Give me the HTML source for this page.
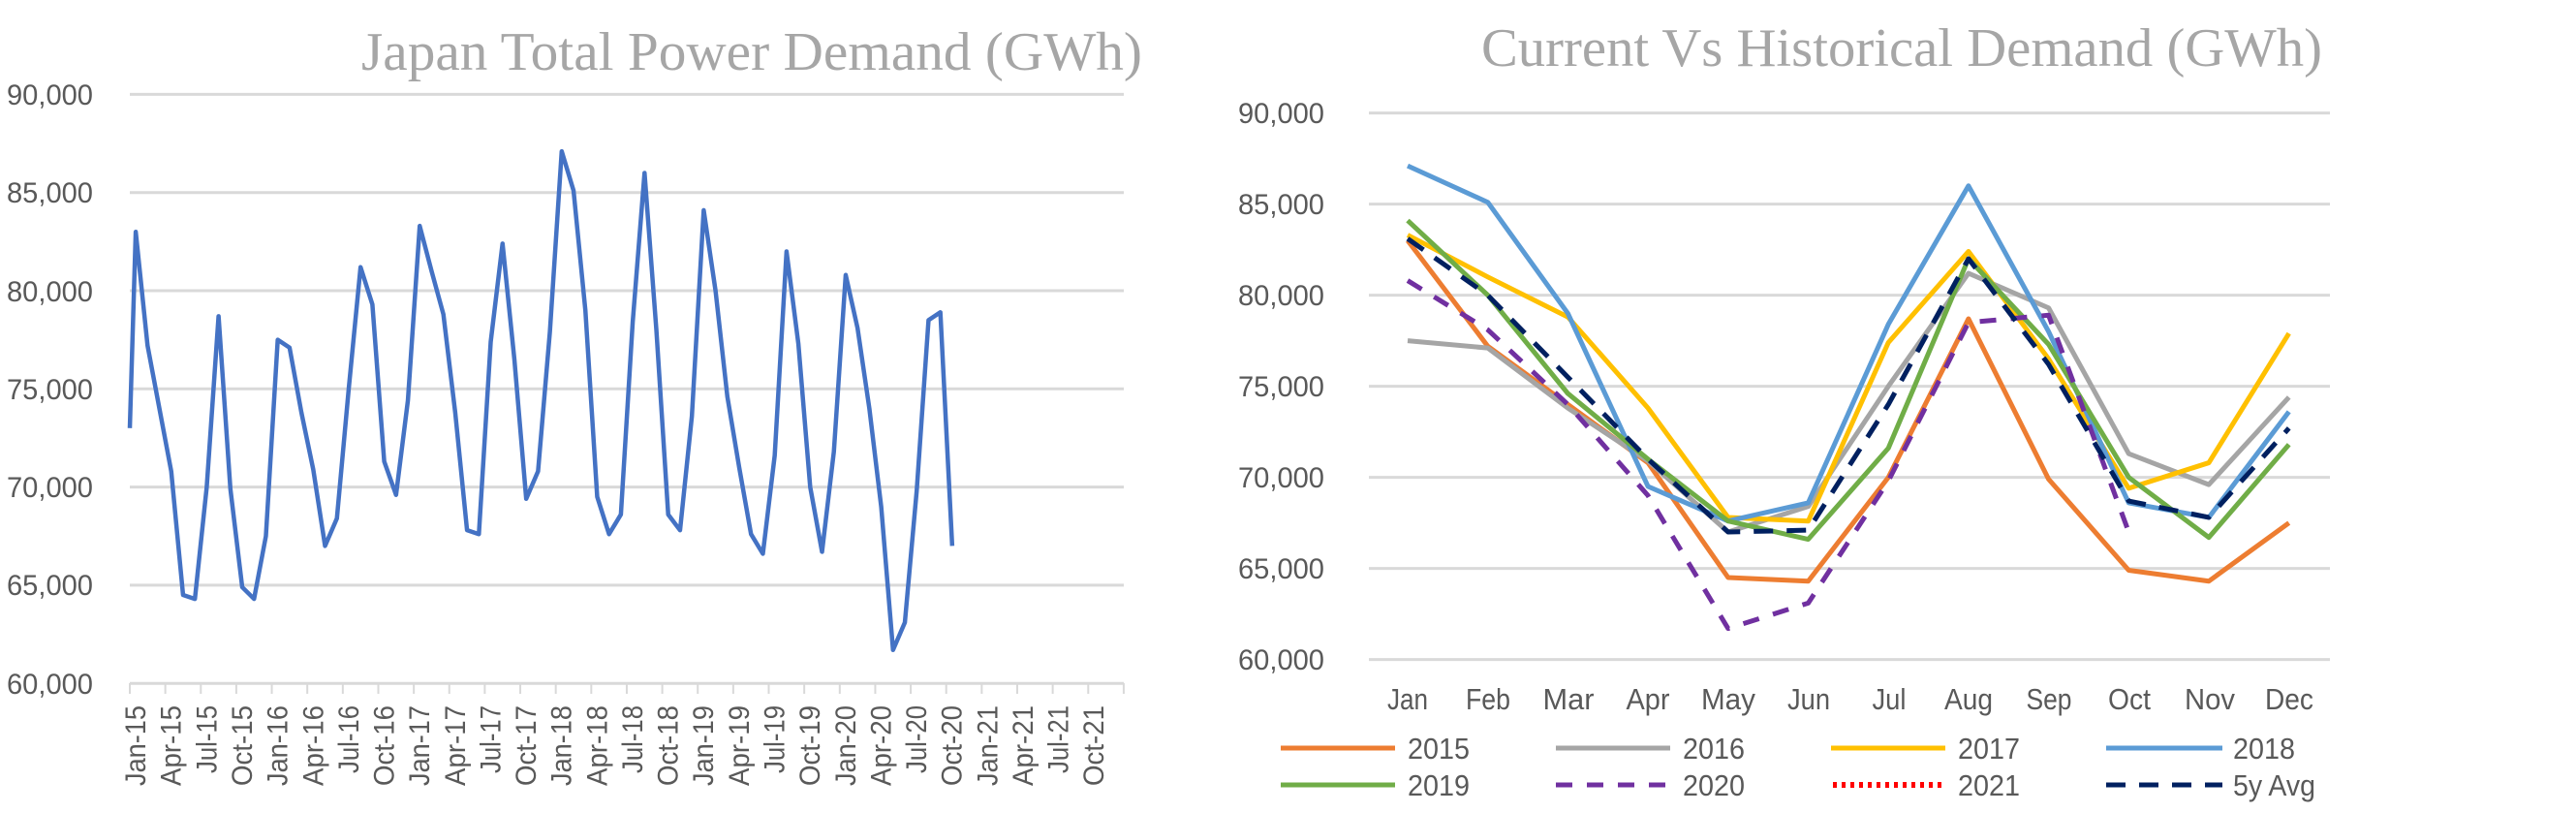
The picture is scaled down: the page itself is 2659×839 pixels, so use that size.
<!DOCTYPE html>
<html><head><meta charset="utf-8"><style>
html,body{margin:0;padding:0;background:#fff;}
svg{display:block;}
text{font-family:"Liberation Sans",sans-serif;fill:#595959;}
.t{font-family:"Liberation Serif",serif;fill:#a6a6a6;font-size:56px;}
</style></head><body>
<svg id="s" width="2659" height="839" viewBox="0 0 2659 839" xmlns="http://www.w3.org/2000/svg">
<text class="t" x="373" y="72" textLength="806" lengthAdjust="spacingAndGlyphs">Japan Total Power Demand (GWh)</text>
<text class="t" x="1529" y="68" textLength="868" lengthAdjust="spacingAndGlyphs">Current Vs Historical Demand (GWh)</text>
<g font-size="30" text-anchor="end">
<text x="96" y="108" textLength="89" lengthAdjust="spacingAndGlyphs">90,000</text>
<text x="96" y="209" textLength="89" lengthAdjust="spacingAndGlyphs">85,000</text>
<text x="96" y="311" textLength="89" lengthAdjust="spacingAndGlyphs">80,000</text>
<text x="96" y="412" textLength="89" lengthAdjust="spacingAndGlyphs">75,000</text>
<text x="96" y="513" textLength="89" lengthAdjust="spacingAndGlyphs">70,000</text>
<text x="96" y="614" textLength="89" lengthAdjust="spacingAndGlyphs">65,000</text>
<text x="96" y="716" textLength="89" lengthAdjust="spacingAndGlyphs">60,000</text>
<text x="1367" y="127" textLength="89" lengthAdjust="spacingAndGlyphs">90,000</text>
<text x="1367" y="221" textLength="89" lengthAdjust="spacingAndGlyphs">85,000</text>
<text x="1367" y="315" textLength="89" lengthAdjust="spacingAndGlyphs">80,000</text>
<text x="1367" y="409" textLength="89" lengthAdjust="spacingAndGlyphs">75,000</text>
<text x="1367" y="503" textLength="89" lengthAdjust="spacingAndGlyphs">70,000</text>
<text x="1367" y="597" textLength="89" lengthAdjust="spacingAndGlyphs">65,000</text>
<text x="1367" y="691" textLength="89" lengthAdjust="spacingAndGlyphs">60,000</text>
</g>
<g font-size="30" text-anchor="end">
<text transform="translate(140.1,728) rotate(-90)" dy="10" textLength="83" lengthAdjust="spacingAndGlyphs">Jan-15</text>
<text transform="translate(176.7,728) rotate(-90)" dy="10" textLength="83" lengthAdjust="spacingAndGlyphs">Apr-15</text>
<text transform="translate(213.4,728) rotate(-90)" dy="10" textLength="70" lengthAdjust="spacingAndGlyphs">Jul-15</text>
<text transform="translate(250,728) rotate(-90)" dy="10" textLength="83" lengthAdjust="spacingAndGlyphs">Oct-15</text>
<text transform="translate(286.6,728) rotate(-90)" dy="10" textLength="83" lengthAdjust="spacingAndGlyphs">Jan-16</text>
<text transform="translate(323.3,728) rotate(-90)" dy="10" textLength="83" lengthAdjust="spacingAndGlyphs">Apr-16</text>
<text transform="translate(359.9,728) rotate(-90)" dy="10" textLength="70" lengthAdjust="spacingAndGlyphs">Jul-16</text>
<text transform="translate(396.5,728) rotate(-90)" dy="10" textLength="83" lengthAdjust="spacingAndGlyphs">Oct-16</text>
<text transform="translate(433.2,728) rotate(-90)" dy="10" textLength="83" lengthAdjust="spacingAndGlyphs">Jan-17</text>
<text transform="translate(469.8,728) rotate(-90)" dy="10" textLength="83" lengthAdjust="spacingAndGlyphs">Apr-17</text>
<text transform="translate(506.4,728) rotate(-90)" dy="10" textLength="70" lengthAdjust="spacingAndGlyphs">Jul-17</text>
<text transform="translate(543.1,728) rotate(-90)" dy="10" textLength="83" lengthAdjust="spacingAndGlyphs">Oct-17</text>
<text transform="translate(579.7,728) rotate(-90)" dy="10" textLength="83" lengthAdjust="spacingAndGlyphs">Jan-18</text>
<text transform="translate(616.3,728) rotate(-90)" dy="10" textLength="83" lengthAdjust="spacingAndGlyphs">Apr-18</text>
<text transform="translate(653,728) rotate(-90)" dy="10" textLength="70" lengthAdjust="spacingAndGlyphs">Jul-18</text>
<text transform="translate(689.6,728) rotate(-90)" dy="10" textLength="83" lengthAdjust="spacingAndGlyphs">Oct-18</text>
<text transform="translate(726.2,728) rotate(-90)" dy="10" textLength="83" lengthAdjust="spacingAndGlyphs">Jan-19</text>
<text transform="translate(762.9,728) rotate(-90)" dy="10" textLength="83" lengthAdjust="spacingAndGlyphs">Apr-19</text>
<text transform="translate(799.5,728) rotate(-90)" dy="10" textLength="70" lengthAdjust="spacingAndGlyphs">Jul-19</text>
<text transform="translate(836.1,728) rotate(-90)" dy="10" textLength="83" lengthAdjust="spacingAndGlyphs">Oct-19</text>
<text transform="translate(872.8,728) rotate(-90)" dy="10" textLength="83" lengthAdjust="spacingAndGlyphs">Jan-20</text>
<text transform="translate(909.4,728) rotate(-90)" dy="10" textLength="83" lengthAdjust="spacingAndGlyphs">Apr-20</text>
<text transform="translate(946,728) rotate(-90)" dy="10" textLength="70" lengthAdjust="spacingAndGlyphs">Jul-20</text>
<text transform="translate(982.7,728) rotate(-90)" dy="10" textLength="83" lengthAdjust="spacingAndGlyphs">Oct-20</text>
<text transform="translate(1019.3,728) rotate(-90)" dy="10" textLength="83" lengthAdjust="spacingAndGlyphs">Jan-21</text>
<text transform="translate(1055.9,728) rotate(-90)" dy="10" textLength="83" lengthAdjust="spacingAndGlyphs">Apr-21</text>
<text transform="translate(1092.6,728) rotate(-90)" dy="10" textLength="70" lengthAdjust="spacingAndGlyphs">Jul-21</text>
<text transform="translate(1129.2,728) rotate(-90)" dy="10" textLength="83" lengthAdjust="spacingAndGlyphs">Oct-21</text>
</g>
<g font-size="31" text-anchor="middle">
<text x="1453" y="732" textLength="42" lengthAdjust="spacingAndGlyphs">Jan</text><text x="1536" y="732" textLength="46" lengthAdjust="spacingAndGlyphs">Feb</text><text x="1619" y="732" textLength="53" lengthAdjust="spacingAndGlyphs">Mar</text>
<text x="1701" y="732" textLength="45" lengthAdjust="spacingAndGlyphs">Apr</text><text x="1784" y="732" textLength="56" lengthAdjust="spacingAndGlyphs">May</text><text x="1867" y="732" textLength="44" lengthAdjust="spacingAndGlyphs">Jun</text>
<text x="1950" y="732" textLength="35" lengthAdjust="spacingAndGlyphs">Jul</text><text x="2032" y="732" textLength="50" lengthAdjust="spacingAndGlyphs">Aug</text><text x="2115" y="732" textLength="47" lengthAdjust="spacingAndGlyphs">Sep</text>
<text x="2198" y="732" textLength="44" lengthAdjust="spacingAndGlyphs">Oct</text><text x="2281" y="732" textLength="52" lengthAdjust="spacingAndGlyphs">Nov</text><text x="2363" y="732" textLength="50" lengthAdjust="spacingAndGlyphs">Dec</text>
</g>
<g font-size="31">
<text x="1453" y="783" textLength="64" lengthAdjust="spacingAndGlyphs">2015</text><text x="1737" y="783" textLength="64" lengthAdjust="spacingAndGlyphs">2016</text><text x="2021" y="783" textLength="64" lengthAdjust="spacingAndGlyphs">2017</text><text x="2305" y="783" textLength="64" lengthAdjust="spacingAndGlyphs">2018</text>
<text x="1453" y="821" textLength="64" lengthAdjust="spacingAndGlyphs">2019</text><text x="1737" y="821" textLength="64" lengthAdjust="spacingAndGlyphs">2020</text><text x="2021" y="821" textLength="64" lengthAdjust="spacingAndGlyphs">2021</text><text x="2305" y="821" textLength="85" lengthAdjust="spacingAndGlyphs">5y Avg</text>
</g>
<g stroke-width="5" fill="none">
<line x1="1322" y1="772" x2="1440" y2="772" stroke="#ed7d31"/>
<line x1="1606" y1="772" x2="1724" y2="772" stroke="#a5a5a5"/>
<line x1="1890" y1="772" x2="2008" y2="772" stroke="#ffc000"/>
<line x1="2174" y1="772" x2="2294" y2="772" stroke="#5b9bd5"/>
<line x1="1322" y1="810" x2="1440" y2="810" stroke="#70ad47"/>
<line x1="1606" y1="810" x2="1724" y2="810" stroke="#7030a0" stroke-dasharray="17 15"/>
<line x1="1892" y1="810" x2="2008" y2="810" stroke="#ff0000" stroke-dasharray="4 5" stroke-width="6"/>
<line x1="2174" y1="810" x2="2294" y2="810" stroke="#002060" stroke-dasharray="20 14"/>
</g>
<g id="dyn"></g>
</svg>
<script>
var NS="http://www.w3.org/2000/svg",g=document.getElementById("dyn");
function el(t,a){var e=document.createElementNS(NS,t);for(var k in a)e.setAttribute(k,a[k]);g.appendChild(e);return e;}
for(var i=0;i<7;i++){var y=97.4+i*101.3;el("line",{x1:134,x2:1160,y1:y,y2:y,stroke:"#d9d9d9","stroke-width":3});}
for(var i=0;i<7;i++){var y=116.6+i*94;el("line",{x1:1413,x2:2405,y1:y,y2:y,stroke:"#d9d9d9","stroke-width":3});}
for(var k=0;k<=28;k++){var x=134+k*36.64;el("line",{x1:x,x2:x,y1:705,y2:716,stroke:"#d9d9d9","stroke-width":2});}
var D={
"#ed7d31":[83.0,77.2,74.0,70.8,64.5,64.3,70.0,78.7,69.9,64.9,64.3,67.5],
"#a5a5a5":[77.5,77.1,73.8,70.9,67.0,68.4,75.0,81.2,79.3,71.3,69.6,74.4],
"#ffc000":[83.3,81.0,78.8,73.8,67.8,67.6,77.4,82.4,76.5,69.4,70.8,77.9],
"#5b9bd5":[87.1,85.1,79.0,69.5,67.6,68.6,78.4,86.0,78.0,68.6,67.8,73.6],
"#70ad47":[84.1,80.0,74.6,71.0,67.6,66.6,71.6,82.0,77.3,70.0,66.7,71.8]};
var P20=[80.8,78.1,74.0,69.0,61.7,63.1,69.8,78.5,78.9,67.0];
var AVG=[83.1,80.0,75.5,71.0,67.0,67.1,74.0,82.0,76.2,68.7,67.8,72.7];
function ry(v){return 116.6+(90-v)*18.8;}
function rx(i){return 1453+i*82.7;}
function rl(a,c,dash){var p=a.map(function(v,i){return rx(i)+","+ry(v)}).join(" ");
 var o={points:p,fill:"none",stroke:c,"stroke-width":5,"stroke-linejoin":"round"};if(dash)o["stroke-dasharray"]=dash;el("polyline",o);}
for(var c in D){rl(D[c],c);}
rl(P20,"#7030a0","17 15");
rl(AVG,"#002060","20 14");
var seq=[];for(var c in D)seq=seq.concat(D[c]);seq=seq.concat(P20);
function ly(v){return 97.4+(90-v)*20.26;}
var pts=["134,"+ly(73)];
seq.forEach(function(v,i){pts.push((134+(i+0.5)*12.214)+","+ly(v));});
el("polyline",{points:pts.join(" "),fill:"none",stroke:"#4472c4","stroke-width":4.5,"stroke-linejoin":"round"});
</script>
</body></html>
